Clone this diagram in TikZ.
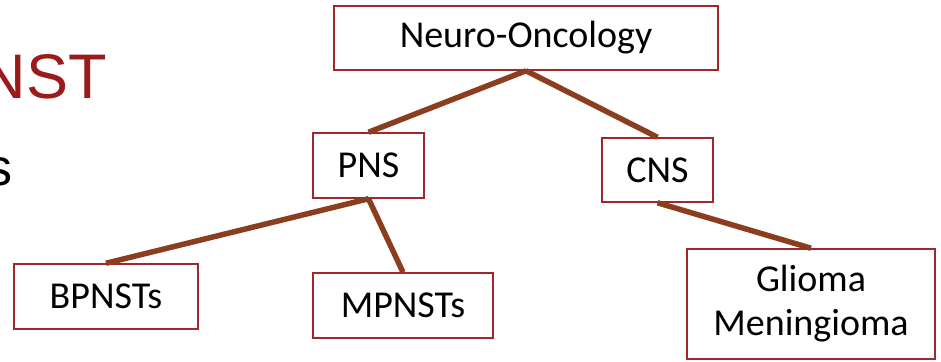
\documentclass[tikz,border=0pt]{standalone}
\usepackage{fontspec}
\setmainfont{Carlito}
\newfontfamily\arialf{Liberation Sans}
\definecolor{boxred}{HTML}{A0282B}
\definecolor{linkbrown}{HTML}{8B3E1F}
\definecolor{titlered}{HTML}{9B1B1B}
\begin{document}
\begin{tikzpicture}[x=1pt,y=-1pt,
  box/.style={draw=boxred,line width=1.5pt,fill=white,inner sep=0pt,align=center,font=\fontsize{38}{44}\selectfont},
  link/.style={draw=linkbrown,line width=5.5pt}]
\useasboundingbox (0,0) rectangle (941,361);
\clip (0,0) rectangle (941,361);
\node[anchor=base east,text=titlered,font=\arialf\fontsize{63}{70}\selectfont,inner sep=0pt] (title) at (107,98) {NST};
\node[anchor=base east,text=black,font=\arialf\fontsize{52}{60}\selectfont,inner sep=0pt] (sub) at (13,185) {s};
\node[box,minimum width=384pt,minimum height=64pt] (neuro) at (526,38) {Neuro-Oncology};
\node[box,minimum width=111pt,minimum height=65pt] (pns) at (368.5,165.5) {PNS};
\node[box,minimum width=111pt,minimum height=64pt] (cns) at (657.5,170) {CNS};
\node[box,minimum width=184pt,minimum height=65pt] (bp) at (106,296.5) {BPNSTs};
\node[box,minimum width=180pt,minimum height=65pt] (mp) at (403,305.5) {MPNSTs};
\node[box,minimum width=248pt,minimum height=110pt,font=\fontsize{38}{44}\selectfont] (gl) at (811,304) {Glioma\\Meningioma};
\draw[link] (neuro.south) -- (pns.north);
\draw[link] (neuro.south) -- (cns.north);
\draw[link] (pns.south) -- (bp.north);
\draw[link] (pns.south) -- (mp.north);
\draw[link] (cns.south) -- (gl.north);
\end{tikzpicture}
\end{document}
